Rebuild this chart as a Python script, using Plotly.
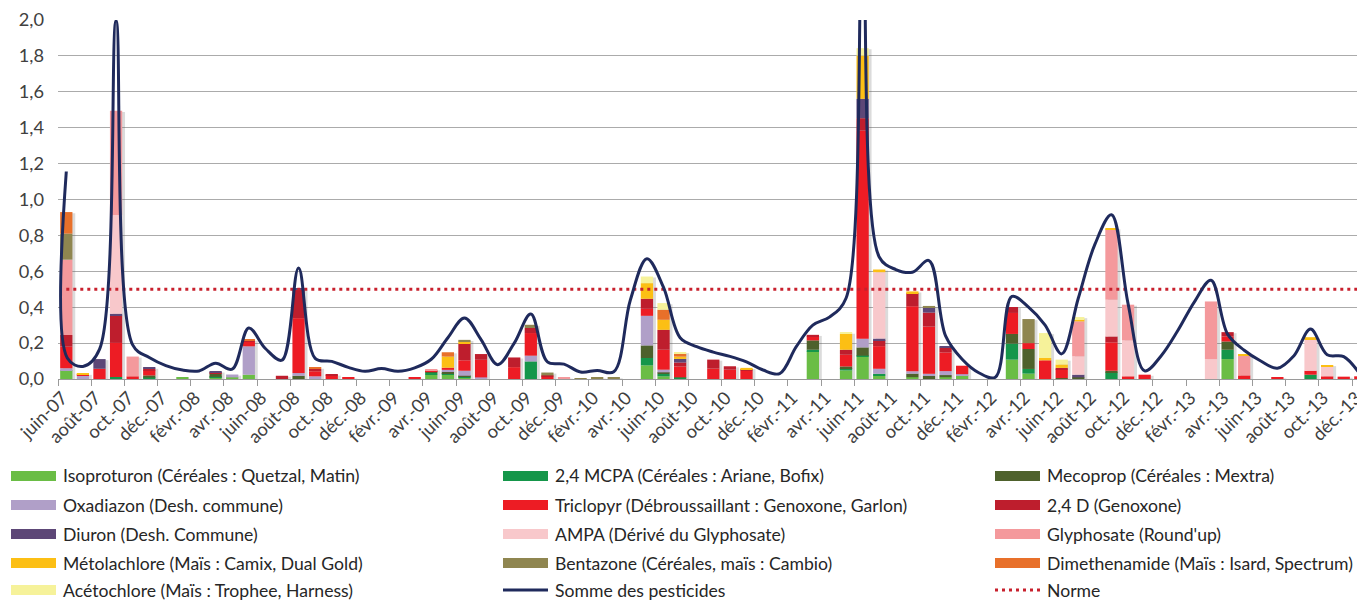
import plotly.graph_objects as go

# ---------------- DATA ----------------
mois = [
    "juin-07", "juil.-07", "août-07", "sept.-07", "oct.-07", "nov.-07", "déc.-07",
    "janv.-08", "févr.-08", "mars-08", "avr.-08", "mai-08", "juin-08", "juil.-08", "août-08", "sept.-08", "oct.-08", "nov.-08", "déc.-08",
    "janv.-09", "févr.-09", "mars-09", "avr.-09", "mai-09", "juin-09", "juil.-09", "août-09", "sept.-09", "oct.-09", "nov.-09", "déc.-09",
    "janv.-10", "févr.-10", "mars-10", "avr.-10", "mai-10", "juin-10", "juil.-10", "août-10", "sept.-10", "oct.-10", "nov.-10", "déc.-10",
    "janv.-11", "févr.-11", "mars-11", "avr.-11", "mai-11", "juin-11", "juil.-11", "août-11", "sept.-11", "oct.-11", "nov.-11", "déc.-11",
    "janv.-12", "févr.-12", "mars-12", "avr.-12", "mai-12", "juin-12", "juil.-12", "août-12", "sept.-12", "oct.-12", "nov.-12", "déc.-12",
    "janv.-13", "févr.-13", "mars-13", "avr.-13", "mai-13", "juin-13", "juil.-13", "août-13", "sept.-13", "oct.-13", "nov.-13", "déc.-13",
]

isoproturon = {"juin-07": 0.05, "janv.-08": 0.008, "mars-08": 0.006, "avr.-08": 0.009, "mai-08": 0.024,
               "avr.-09": 0.024, "mai-09": 0.024, "juin-09": 0.008, "mai-10": 0.076, "juin-10": 0.015,
               "mars-11": 0.154, "mai-11": 0.048, "juin-11": 0.125, "juil.-11": 0.018, "sept.-11": 0.01,
               "nov.-11": 0.01, "déc.-11": 0.022, "mars-12": 0.108, "avr.-12": 0.03, "avr.-13": 0.111}
mcpa = {"sept.-07": 0.011, "nov.-07": 0.008, "mars-08": 0.006, "avr.-09": 0.01, "mai-09": 0.008,
        "juin-09": 0.006, "oct.-09": 0.098, "mai-10": 0.041, "juin-10": 0.013, "juil.-10": 0.009,
        "mars-11": 0.009, "mai-11": 0.013, "juin-11": 0.005, "juil.-11": 0.011, "mars-12": 0.089,
        "avr.-12": 0.026, "sept.-12": 0.037, "avr.-13": 0.052, "sept.-13": 0.024}
mecoprop = {"nov.-07": 0.012, "mars-08": 0.02, "août-08": 0.018, "avr.-09": 0.006, "mai-09": 0.009,
            "juin-09": 0.004, "mai-10": 0.07, "juin-10": 0.009, "mars-11": 0.052, "mai-11": 0.009,
            "juin-11": 0.046, "sept.-11": 0.02, "oct.-11": 0.018, "nov.-11": 0.012, "mars-12": 0.054,
            "avr.-12": 0.111, "juin-12": 0.005, "juil.-12": 0.009, "sept.-12": 0.009, "avr.-13": 0.046}
oxadiazon = {"juin-07": 0.01, "juil.-07": 0.018, "avr.-08": 0.016, "mai-08": 0.158, "août-08": 0.015,
             "sept.-08": 0.015, "mai-09": 0.01, "juin-09": 0.028, "juil.-09": 0.009, "oct.-09": 0.032,
             "mai-10": 0.165, "juin-10": 0.015, "juin-11": 0.048, "juil.-11": 0.028, "sept.-11": 0.013,
             "oct.-11": 0.011, "nov.-11": 0.022, "déc.-11": 0.005}
triclopyr = {"juin-07": 0.12, "juil.-07": 0.005, "août-07": 0.057, "sept.-07": 0.19, "oct.-07": 0.015,
             "nov.-07": 0.028, "mai-08": 0.025, "août-08": 0.306, "sept.-08": 0.028, "oct.-08": 0.02,
             "nov.-08": 0.008, "mars-09": 0.008, "avr.-09": 0.008, "mai-09": 0.012, "juin-09": 0.058,
             "juil.-09": 0.098, "sept.-09": 0.066, "oct.-09": 0.126, "nov.-09": 0.014, "mai-10": 0.039,
             "juin-10": 0.111, "juil.-10": 0.061, "sept.-10": 0.058, "oct.-10": 0.052, "nov.-10": 0.046,
             "mars-11": 0.022, "mai-11": 0.065, "juin-11": 1.16, "juil.-11": 0.126, "sept.-11": 0.362,
             "oct.-11": 0.263, "nov.-11": 0.104, "déc.-11": 0.047, "mars-12": 0.117, "avr.-12": 0.033,
             "mai-12": 0.104, "juin-12": 0.048, "sept.-12": 0.158, "oct.-12": 0.015, "nov.-12": 0.024,
             "avr.-13": 0.028, "mai-13": 0.02, "juil.-13": 0.009, "sept.-13": 0.022, "oct.-13": 0.015,
             "nov.-13": 0.013, "déc.-13": 0.015}
d24 = {"juin-07": 0.065, "sept.-07": 0.152, "nov.-07": 0.01, "mars-08": 0.006, "mai-08": 0.006,
       "juil.-08": 0.018, "août-08": 0.158, "sept.-08": 0.013, "oct.-08": 0.005, "juin-09": 0.093,
       "juil.-09": 0.032, "sept.-09": 0.054, "oct.-09": 0.028, "nov.-09": 0.006, "mai-10": 0.056,
       "juin-10": 0.111, "juil.-10": 0.022, "sept.-10": 0.05, "oct.-10": 0.019, "nov.-10": 0.009,
       "mars-11": 0.009, "mai-11": 0.028, "juin-11": 0.069, "juil.-11": 0.033, "sept.-11": 0.074,
       "oct.-11": 0.078, "nov.-11": 0.026, "mars-12": 0.033, "juin-12": 0.009, "sept.-12": 0.033,
       "avr.-13": 0.024}
diuron = {"août-07": 0.054, "sept.-07": 0.011, "nov.-07": 0.005, "mars-08": 0.004, "août-08": 0.009,
          "juil.-10": 0.02, "juin-11": 0.108, "juil.-11": 0.009, "oct.-11": 0.03, "nov.-11": 0.009,
          "juil.-12": 0.015}
ampa = {"sept.-07": 0.55, "juil.-11": 0.37, "juil.-12": 0.102, "sept.-12": 0.204, "oct.-12": 0.2,
        "mars-13": 0.111, "sept.-13": 0.176, "oct.-13": 0.056}
glyphosate = {"juin-07": 0.42, "sept.-07": 0.58, "oct.-07": 0.11, "avr.-09": 0.006, "déc.-09": 0.008,
              "juil.-12": 0.195, "sept.-12": 0.393, "oct.-12": 0.199, "mars-13": 0.321, "mai-13": 0.11}
metolachlore = {"juil.-07": 0.006, "mai-09": 0.062, "juin-09": 0.011, "mai-10": 0.087, "juin-10": 0.056,
                "juil.-10": 0.013, "nov.-10": 0.007, "mai-11": 0.089, "juin-11": 0.241, "juil.-11": 0.015,
                "sept.-11": 0.009, "mai-12": 0.013, "juin-12": 0.019, "juil.-12": 0.013, "sept.-12": 0.006,
                "mai-13": 0.009, "sept.-13": 0.011, "oct.-13": 0.007}
bentazone = {"juin-07": 0.145, "juin-09": 0.01, "oct.-09": 0.018, "nov.-09": 0.016, "janv.-10": 0.005,
             "févr.-10": 0.008, "mars-10": 0.01, "oct.-11": 0.007, "avr.-12": 0.134}
dimethenamide = {"juin-07": 0.12, "mai-08": 0.006, "sept.-08": 0.007, "mai-09": 0.024, "juin-10": 0.056,
                 "juil.-10": 0.015}
acetochlore = {"mai-10": 0.037, "juin-10": 0.037, "juil.-10": 0.01, "mai-11": 0.006, "juin-11": 0.041,
               "mai-12": 0.139, "juin-12": 0.027, "juil.-12": 0.011}

# Somme des pesticides (one value per month) + the sharp drop right after the first sample
somme = [1.156, 0.07, 0.165, 1.996, 0.19, 0.12, 0.075,
         0.05, 0.045, 0.088, 0.055, 0.284, 0.17, 0.105, 0.618, 0.115, 0.098, 0.065, 0.043,
         0.058, 0.043, 0.062, 0.11, 0.23, 0.34, 0.22, 0.08, 0.2, 0.362, 0.095, 0.083,
         0.039, 0.048, 0.04, 0.44, 0.67, 0.51, 0.23, 0.18, 0.15, 0.126, 0.095, 0.05,
         0.03, 0.18, 0.3, 0.345, 0.45, 2.4, 0.68, 0.61, 0.595, 0.66, 0.24, 0.11,
         0.035, 0.01, 0.46, 0.4, 0.3, 0.14, 0.45, 0.75, 0.915, 0.42, 0.045, 0.13,
         0.27, 0.43, 0.55, 0.25, 0.16, 0.1, 0.06, 0.13, 0.278, 0.135, 0.125, 0.024]
somme_chute = 0.117
norme = 0.5

y_ticks = [0.0, 0.2, 0.4, 0.6, 0.8, 1.0, 1.2, 1.4, 1.6, 1.8, 2.0]

series = [
    ("Isoproturon (Céréales : Quetzal, Matin)", isoproturon, "#6abd45"),
    ("2,4 MCPA (Céréales : Ariane, Bofix)", mcpa, "#15964a"),
    ("Mecoprop (Céréales : Mextra)", mecoprop, "#4e612c"),
    ("Oxadiazon (Desh. commune)", oxadiazon, "#b09fc8"),
    ("Triclopyr (Débroussaillant : Genoxone, Garlon)", triclopyr, "#ed1c24"),
    ("2,4 D (Genoxone)", d24, "#be1e2d"),
    ("Diuron (Desh. Commune)", diuron, "#5d4777"),
    ("AMPA (Dérivé du Glyphosate)", ampa, "#f8c8cb"),
    ("Glyphosate (Round'up)", glyphosate, "#f4999c"),
    ("Métolachlore (Maïs : Camix, Dual Gold)", metolachlore, "#fcbf14"),
    ("Bentazone (Céréales, maïs : Cambio)", bentazone, "#8f8650"),
    ("Dimethenamide (Maïs : Isard, Spectrum)", dimethenamide, "#e8702a"),
    ("Acétochlore (Maïs : Trophee, Harness)", acetochlore, "#f6f29a"),
]
SOMME_NAME = "Somme des pesticides"
NORME_NAME = "Norme"
SOMME_COLOR = "#1f2a5c"
NORME_COLOR = "#c8202d"

# ---------------- FIGURE ----------------
# the page body adds an 8px margin: the figure is sized so it ends exactly at the window edge
OFF = 8
W, H = 1365 - OFF, 601 - OFF
L, R, T = 58 - OFF, 0, 20 - OFF
PLOT_BOTTOM = 379 - OFF
B = H - PLOT_BOTTOM
PW, PH = W - L - R, H - T - B
MONTH_PX = 16.59
x_idx = list(range(len(mois)))
x_max = -0.5 + PW / MONTH_PX
BAR_W = 0.74
FONT = "Lato"
FS = 18.2
FS_LEG = 17.6

fig = go.Figure()

vals = [[d.get(m, 0.0) for m in mois] for _, d, _ in series]
totals = [sum(v[i] for v in vals) for i in x_idx]

# soft shadow behind each stack
fig.add_trace(go.Bar(x=[i + 0.17 for i in x_idx], y=totals, base=[-0.006] * len(totals),
                     width=BAR_W, marker=dict(color="rgba(90,90,90,0.22)", line=dict(width=0)),
                     hoverinfo="skip", showlegend=False))

cum = [0.0] * len(mois)
for (name, d, color), v in zip(series, vals):
    fig.add_trace(go.Bar(x=x_idx, y=v, base=list(cum), width=BAR_W, name=name,
                         marker=dict(color=color, line=dict(width=0)), showlegend=False))
    cum = [c + a for c, a in zip(cum, v)]

fig.add_trace(go.Scatter(x=[x_idx[0], x_idx[-1]], y=[norme, norme], mode="lines", name=NORME_NAME,
                         line=dict(color=NORME_COLOR, width=3, dash="3px,4px"), showlegend=False))

somme_x = [0, 0.06] + x_idx[1:]
somme_y = [somme[0], somme_chute] + somme[1:]
fig.add_trace(go.Scatter(x=somme_x, y=somme_y, mode="lines", name=SOMME_NAME,
                         line=dict(color=SOMME_COLOR, width=3, shape="spline", smoothing=1.0),
                         showlegend=False))

tick_idx = list(range(0, len(mois), 2))
fig.update_layout(
    width=W, height=H, margin=dict(l=L, r=R, t=T, b=B, autoexpand=False),
    plot_bgcolor="white", paper_bgcolor="white",
    barmode="overlay", separators=", ", showlegend=False,
    font=dict(family=FONT, size=FS, color="#404040"),
    xaxis=dict(range=[-0.5, x_max], tickmode="array", tickvals=tick_idx,
               ticktext=[mois[i] for i in tick_idx], tickangle=-45, ticks="",
               showgrid=False, zeroline=False, showline=True, linecolor="#9a9a9a", linewidth=1,
               tickfont=dict(family=FONT, size=FS, color="#404040"), ticklabelstandoff=0,
               ticklabelshift=-4, ticklabeloverflow="allow",
               minor=dict(tickmode="array", tickvals=[i - 0.5 for i in range(0, len(mois) + 1, 2)],
                          ticks="outside", ticklen=6, tickcolor="#9a9a9a", tickwidth=1, showgrid=False)),
    yaxis=dict(range=[0, 2.0], tickmode="array", tickvals=y_ticks, tickformat=".1f",
               showgrid=True, gridcolor="#ababab", gridwidth=1, zeroline=False, showline=False,
               ticks="", ticklabelstandoff=13,
               tickfont=dict(family=FONT, size=FS, color="#404040")),
)

# ---------------- LEGEND (3 columns x 5 rows) ----------------
def xp(px):
    return (px - OFF - L) / PW

def yp(py):
    return (PLOT_BOTTOM - (py - OFF)) / PH

col_x = [11, 503, 995]
row_y = [476, 505, 534, 563, 590]
items = [(n, "bar", c) for n, _, c in series] + [(SOMME_NAME, "line", SOMME_COLOR), (NORME_NAME, "dot", NORME_COLOR)]
for k, (name, kind, color) in enumerate(items):
    r, c = divmod(k, 3)
    x0, yc = col_x[c], row_y[r]
    if kind == "bar":
        fig.add_shape(type="rect", xref="paper", yref="paper", x0=xp(x0), x1=xp(x0 + 45),
                      y0=yp(yc + 5), y1=yp(yc - 5), fillcolor=color, line=dict(width=0))
    elif kind == "line":
        fig.add_shape(type="line", xref="paper", yref="paper", x0=xp(x0), x1=xp(x0 + 45),
                      y0=yp(yc), y1=yp(yc), line=dict(color=color, width=3))
    else:
        fig.add_shape(type="line", xref="paper", yref="paper", x0=xp(x0), x1=xp(x0 + 45),
                      y0=yp(yc), y1=yp(yc), line=dict(color=color, width=3, dash="3px,4px"))
    fig.add_annotation(xref="paper", yref="paper", x=xp(x0 + 50), y=yp(yc), text=name,
                       showarrow=False, xanchor="left", yanchor="middle",
                       font=dict(family=FONT, size=FS_LEG, color="#262626"))

fig.write_html("out.html")
